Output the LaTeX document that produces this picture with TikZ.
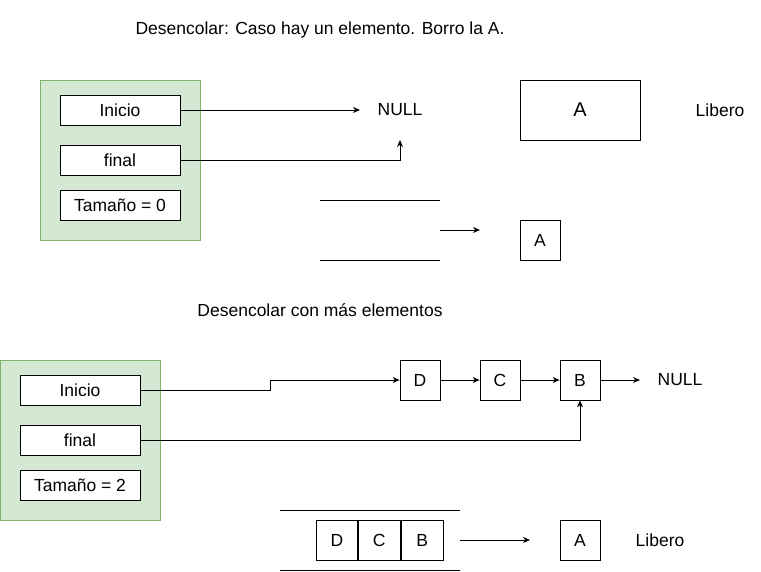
\documentclass[tikz,border=0pt]{standalone}
\usepackage{fontspec}
\setmainfont{Liberation Sans}
\usepackage{xcolor}
\usepackage{tikz}
\usetikzlibrary{arrows.meta}
\definecolor{panelgreen}{HTML}{D5E8D4}
\definecolor{panelborder}{HTML}{82B366}

\begin{document}
\begin{tikzpicture}[x=1pt, y=-1pt, line width=0.8pt,
  every node/.style={font=\fontsize{17.5}{20}\selectfont},
  field/.style={draw, rectangle, fill=white, minimum width=120pt, minimum height=30pt, inner sep=0pt},
  cell/.style={draw, rectangle, fill=white, minimum width=40pt, minimum height=40pt, inner sep=0pt},
  panel/.style={draw=panelborder, fill=panelgreen, rectangle, minimum width=160pt, minimum height=160pt, inner sep=0pt},
  ptr/.style={-{Stealth[length=7pt, width=6pt]}}]
\useasboundingbox (0,0) rectangle (761,571);

% caso con un elemento
\node (title1) at (320,30) {Desencolar: Caso hay un elemento. Borro la A.};
\node[panel] (cola1) at (120,160) {};
\node[field] (inicio1) at (120,110) {Inicio};
\node[field] (final1) at (120,160) {final};
\node[field] (tam1) at (120,205) {Tamaño = 0};
\node (null1) at (400,110) {NULL};
\node[draw, rectangle, minimum width=120pt, minimum height=60pt, inner sep=0pt] (big1) at (580,110) {\fontsize{20}{22}\selectfont A};
\node (libero1) at (720,110) {Libero};
\coordinate (nullhead) at (360,110);
\coordinate (nulltail) at (400,140);
\draw[ptr] (inicio1.east) -- (nullhead);
\draw[ptr] (final1.east) -| (nulltail);
\draw (320,200) -- (440,200);
\draw (320,260) -- (440,260);
\coordinate (out1a) at (440,230);
\coordinate (out1b) at (480,230);
\node[cell] (a1) at (540,240) {A};
\draw[ptr] (out1a) -- (out1b);

% caso con mas elementos
\node (title2) at (320,310) {Desencolar con más elementos};
\node[panel] (cola2) at (80,440) {};
\node[field] (inicio2) at (80,390) {Inicio};
\node[field] (final2) at (80,440) {final};
\node[field] (tam2) at (80,485) {Tamaño = 2};
\node[cell] (d) at (420,380) {D};
\node[cell] (c) at (500,380) {C};
\node[cell] (b) at (580,380) {B};
\node (null2) at (680,380) {NULL};
\coordinate (null2head) at (640,380);
\draw[ptr] (inicio2.east) -- (270,390) -- (270,380) -- (d.west);
\draw[ptr] (d) -- (c);
\draw[ptr] (c) -- (b);
\draw[ptr] (b) -- (null2head);
\draw[ptr] (final2.east) -| (b.south);
\draw (280,510) -- (460,510);
\draw (280,570) -- (460,570);
\node[cell, minimum width=41pt] (qd) at (337,540) {D};
\node[cell, minimum width=42pt, anchor=west] (qc) at (qd.east) {C};
\node[cell, minimum width=42pt, anchor=west] (qb) at (qc.east) {B};
\coordinate (out2a) at (460,540);
\coordinate (out2b) at (530,540);
\draw[ptr] (out2a) -- (out2b);
\node[cell] (a2) at (580,540) {A};
\node (libero2) at (660,540) {Libero};
\end{tikzpicture}
\end{document}
